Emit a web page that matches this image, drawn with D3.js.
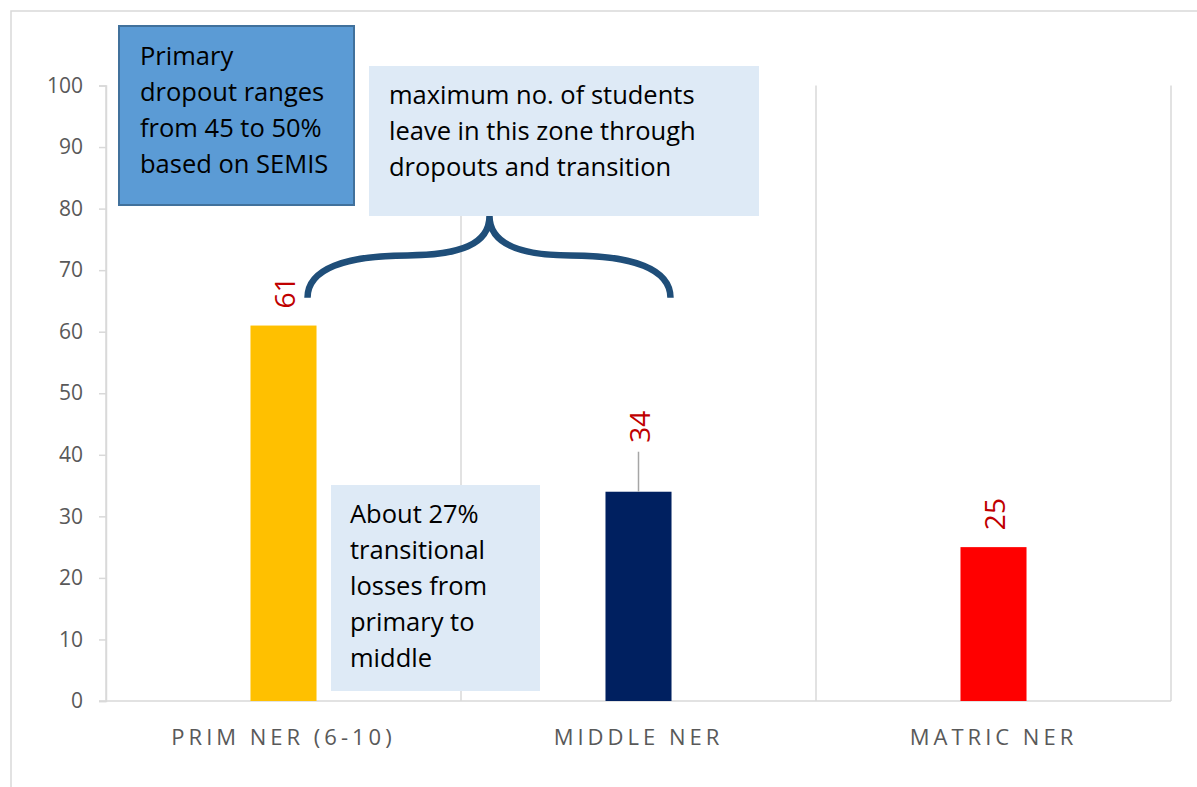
<!DOCTYPE html>
<html>
<head>
<meta charset="utf-8">
<script src="https://cdn.jsdelivr.net/npm/d3@7"></script>
<style>
  html, body { margin: 0; padding: 0; background: #fff; }
  svg { display: block; }
  text { font-family: "Open Sans", "Noto Sans", sans-serif; }
</style>
</head>
<body>
<svg id="chart" width="1197" height="787"></svg>
<script>
// ---- data ----
const categories = ["PRIM NER (6-10)", "MIDDLE NER", "MATRIC NER"];
const values = [61, 34, 25];
const barColors = ["#FFC000", "#002060", "#FF0000"];
const yTicks = [0, 10, 20, 30, 40, 50, 60, 70, 80, 90, 100];
const note1Lines = ["Primary", "dropout ranges", "from 45 to 50%", "based on SEMIS"];
const note2Lines = ["maximum no. of students", "leave in this zone through", "dropouts and transition"];
const note3Lines = ["About 27%", "transitional", "losses from", "primary to", "middle"];

// ---- layout ----
const W = 1197, H = 787;
const plot = { left: 106, right: 1171, top: 85.5, bottom: 701 };
const barFrac = 0.186;
const labelExtra = [0, 32, 0]; // extra lift for data labels (leader line)

const svg = d3.select("#chart");
const grid = "#D9D9D9";

// outer chart border (only top/left visible within frame)
svg.append("rect").attr("x", 11).attr("y", 11).attr("width", W + 20).attr("height", H + 20)
  .attr("fill", "#fff").attr("stroke", grid).attr("stroke-width", 1.5);

const x = d3.scaleBand().domain(categories).range([plot.left, plot.right]).padding(0);
const y = d3.scaleLinear().domain([0, 100]).range([plot.bottom, plot.top]);

// vertical category gridlines
const bounds = categories.map(c => x(c)).concat([plot.right]);
svg.append("g").selectAll("line").data(bounds).join("line")
  .attr("x1", d => d).attr("x2", d => d)
  .attr("y1", y(100)).attr("y2", y(0))
  .attr("stroke", grid).attr("stroke-width", 1.5);

// y axis
const yAxis = d3.axisLeft(y).tickValues(yTicks).tickSize(7).tickPadding(16);
const gy = svg.append("g").attr("transform", `translate(${plot.left},0)`).call(yAxis);
gy.select(".domain").attr("stroke", grid).attr("stroke-width", 1.5);
gy.selectAll(".tick line").attr("stroke", grid).attr("stroke-width", 1.5);
gy.selectAll(".tick text").attr("fill", "#595959").style("font-size", "21px")
  .style("font-family", "'Open Sans', sans-serif");

// x axis baseline
svg.append("line").attr("x1", plot.left - 7).attr("x2", plot.right)
  .attr("y1", y(0)).attr("y2", y(0)).attr("stroke", grid).attr("stroke-width", 1.5);

// category labels
svg.append("g").selectAll("text").data(categories).join("text")
  .attr("x", d => x(d) + x.bandwidth() / 2)
  .attr("y", 745)
  .attr("text-anchor", "middle")
  .attr("fill", "#595959")
  .style("font-size", "22px")
  .style("letter-spacing", "4px")
  .text(d => d);

// bars
const bw = x.bandwidth() * barFrac;
svg.append("g").selectAll("rect").data(values).join("rect")
  .attr("x", (d, i) => x(categories[i]) + x.bandwidth() / 2 - bw / 2)
  .attr("y", d => y(d))
  .attr("width", bw)
  .attr("height", d => y(0) - y(d))
  .attr("fill", (d, i) => barColors[i]);

// leader lines
values.forEach((v, i) => {
  if (labelExtra[i] > 0) {
    const cx = x(categories[i]) + x.bandwidth() / 2;
    svg.append("line").attr("x1", cx).attr("x2", cx)
      .attr("y1", y(v)).attr("y2", y(v) - labelExtra[i] - 8)
      .attr("stroke", "#A6A6A6").attr("stroke-width", 1.5);
  }
});

// data labels (rotated)
svg.append("g").selectAll("text").data(values).join("text")
  .attr("transform", (d, i) => {
    const cx = x(categories[i]) + x.bandwidth() / 2 + 1;
    const sy = y(d) - 17 - labelExtra[i];
    return `translate(${cx},${sy}) rotate(-90)`;
  })
  .attr("dy", "0.36em")
  .attr("fill", "#C00000")
  .style("font-size", "28px")
  .text(d => d);

// ---- annotations ----
function note(x0, y0, w, h, fill, stroke, lines, tx, ty) {
  const g = svg.append("g");
  g.append("rect").attr("x", x0).attr("y", y0).attr("width", w).attr("height", h)
    .attr("fill", fill).attr("stroke", stroke || "none").attr("stroke-width", stroke ? 2 : 0);
  g.selectAll("text").data(lines).join("text")
    .attr("x", tx).attr("y", (d, i) => ty + i * 36)
    .attr("fill", "#000").style("font-size", "25.5px").text(d => d);
}

// brace
const c0 = x(categories[0]) + x.bandwidth() / 2;
const c1 = x(categories[1]) + x.bandwidth() / 2;
const bl = c0 + 24, br = c1 + 32, bt = (bl + br) / 2 + 0.5;
const yEnd = y(65.5), yMid = y(72.4), yTip = 216;
const brace = `M${bl},${yEnd} C${bl},${yEnd - 29} ${bl + 38},${yMid} ${bl + 100},${yMid}
  C${bt - 30},${yMid} ${bt},${yMid - 11} ${bt},${yTip}
  C${bt},${yMid - 11} ${bt + 30},${yMid} ${br - 100},${yMid}
  C${br - 38},${yMid} ${br},${yEnd - 29} ${br},${yEnd}`;
svg.append("path").attr("d", brace).attr("fill", "none")
  .attr("stroke", "#1F4E79").attr("stroke-width", 6.5);

note(119, 26, 235, 179, "#5B9BD5", "#41719C", note1Lines, 140, 65);
note(369, 66, 390, 150, "#DEEAF6", null, note2Lines, 389, 104);
note(331, 485, 209, 206, "#DEEAF6", null, note3Lines, 350, 523);
</script>
</body>
</html>
